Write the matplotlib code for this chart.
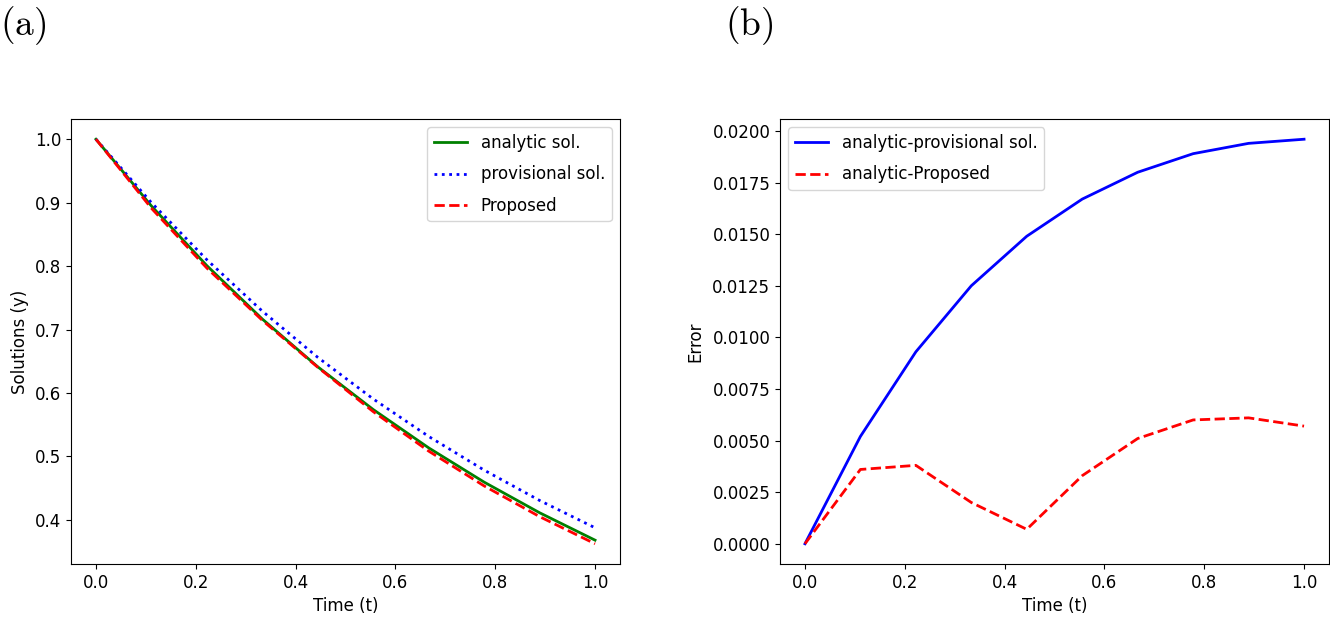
import matplotlib.pyplot as plt

# time grid (10 points)
t = [0.0, 0.1111, 0.2222, 0.3333, 0.4444, 0.5556, 0.6667, 0.7778, 0.8889, 1.0]

# solutions
analytic = [1.0, 0.8948, 0.8007, 0.7165, 0.6412, 0.5738, 0.5134, 0.4594, 0.4111, 0.3679]
provisional = [1.0, 0.9000, 0.8100, 0.7290, 0.6561, 0.5905, 0.5314, 0.4783, 0.4305, 0.3874]
proposed = [1.0, 0.8912, 0.7969, 0.7145, 0.6405, 0.5705, 0.5083, 0.4534, 0.4050, 0.3622]

# errors
err_provisional = [0.0, 0.0052, 0.0093, 0.0125, 0.0149, 0.0167, 0.0180, 0.0189, 0.0194, 0.0196]
err_proposed = [0.0, 0.0036, 0.0038, 0.0020, 0.0007, 0.0033, 0.0051, 0.0060, 0.0061, 0.0057]

plt.rcParams['mathtext.fontset'] = 'cm'
plt.rcParams['font.size'] = 12

fig = plt.figure(figsize=(13.3, 6.27), dpi=100)
W, H = 1330, 627

def px_axes(x0, y0, x1, y1):
    return fig.add_axes([x0 / W, 1 - y1 / H, (x1 - x0) / W, (y1 - y0) / H])

ax1 = px_axes(71, 119, 620, 564)
ax2 = px_axes(780, 119, 1329, 564)

# (a)
ax1.plot(t, analytic, color='green', linewidth=2, label='analytic sol.')
ax1.plot(t, provisional, color='blue', linestyle=':', linewidth=2, label='provisional sol.')
ax1.plot(t, proposed, color='red', linestyle='--', linewidth=2, label='Proposed')
ax1.set_xlabel('Time (t)')
ax1.set_ylabel('Solutions (y)')
ax1.set_xticks([0.0, 0.2, 0.4, 0.6, 0.8, 1.0])
ax1.legend(loc='upper right', labelspacing=0.8)

# (b)
ax2.plot(t, err_provisional, color='blue', linewidth=2, label='analytic-provisional sol.')
ax2.plot(t, err_proposed, color='red', linestyle='--', linewidth=2, label='analytic-Proposed')
ax2.set_xlabel('Time (t)')
ax2.set_ylabel('Error')
ax2.yaxis.set_label_coords(-0.137, 0.5)
ax2.set_xticks([0.0, 0.2, 0.4, 0.6, 0.8, 1.0])
ax2.legend(loc='upper left', labelspacing=0.8)

fig.text(0 / W, 1 - 4 / H, r'$\mathrm{(a)}$', fontsize=27, va='top')
fig.text(725 / W, 1 - 4 / H, r'$\mathrm{(b)}$', fontsize=27, va='top')

fig.savefig('out.png', dpi=100)
